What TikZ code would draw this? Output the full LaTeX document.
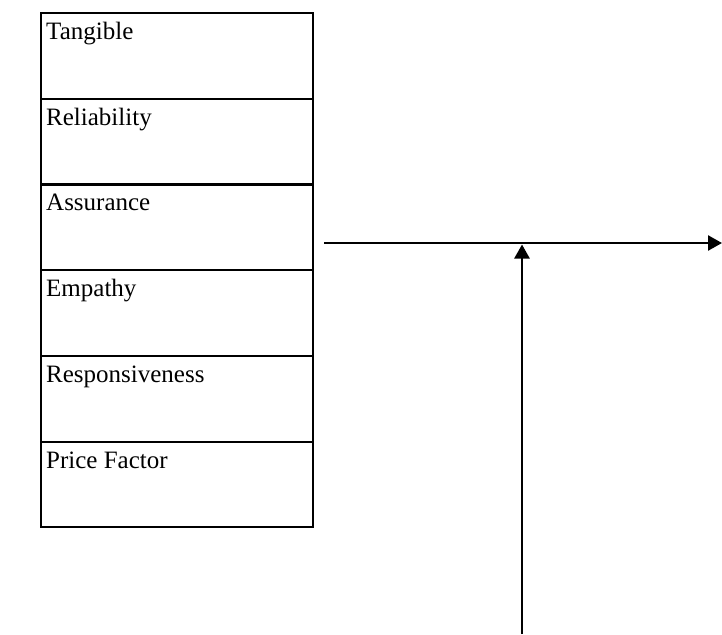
\documentclass[tikz,border=0pt]{standalone}
\usepackage{fontspec}
\setmainfont{Liberation Serif}
\usetikzlibrary{arrows.meta}
\begin{document}
\begin{tikzpicture}[x=1pt,y=-1pt,
  cell/.style={draw,line width=2.2pt,minimum width=272pt,minimum height=85.7pt,inner sep=0pt,anchor=north west},
  lbl/.style={anchor=base west,font=\fontsize{25}{29}\selectfont,inner sep=0pt},
  conn/.style={line width=2.5pt,-{Triangle[length=14pt,width=15pt]}}]
\useasboundingbox (0,0) rectangle (722,634);
\node[cell] (c1) at (40,12) {};
\node[cell] (c2) at (40,97.7) {};
\node[cell] (c3) at (40,183.4) {};
\node[cell] (c4) at (40,269.1) {};
\node[cell] (c5) at (40,354.8) {};
\node[cell] (c6) at (40,440.5) {};
\node[lbl] (t1) at (46,39.5) {Tangible};
\node[lbl] (t2) at (46,125.2) {Reliability};
\node[lbl] (t3) at (46,210.9) {Assurance};
\node[lbl] (t4) at (46,296.6) {Empathy};
\node[lbl] (t5) at (46,382.3) {Responsiveness};
\node[lbl] (t6) at (46,468) {Price Factor};
\coordinate (hs) at (324,243);
\coordinate (he) at (722,243);
\coordinate (vs) at (522,634);
\coordinate (ve) at (522,244.5);
\draw[conn] (hs) -- (he);
\draw[conn] (vs) -- (ve);
\end{tikzpicture}
\end{document}
